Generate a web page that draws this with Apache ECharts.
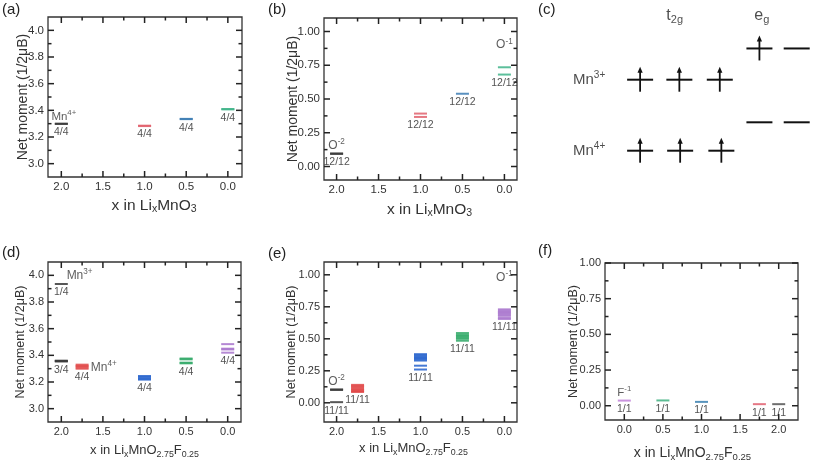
<!DOCTYPE html>
<html><head><meta charset="utf-8">
<script src="https://cdn.jsdelivr.net/npm/echarts@6/dist/echarts.min.js"></script>
<style>html,body{margin:0;padding:0;background:#fff}#c{width:813px;height:463px}</style>
</head><body><div id="c"></div>
<script>
// ================= DATA =================
// (a) LixMnO3 : Mn net moments
const aX = [2.0, 1.0, 0.5, 0.0];
const aVals = [[3.30, 3.298], [3.285, 3.282], [3.336, 3.334], [3.41, 3.407]];
const aCounts = ['4/4', '4/4', '4/4', '4/4'];
const aIons = [[1.97, 3.353, 'Mn', '4+']];
// (b) LixMnO3 : O net moments
const bX = [2.0, 1.0, 0.5, 0.0];
const bVals = [[0.097, 0.093], [0.392, 0.367], [0.539], [0.735, 0.681]];
const bCounts = ['12/12', '12/12', '12/12', '12/12'];
const bIons = [[2.0, 0.157, 'O', '-2'], [0.0, 0.90, 'O', '-1']];
// (d) LixMnO2.75F0.25 : Mn net moments
const dX = [2.0, 2.0, 1.75, 1.0, 0.5, 0.0];
const dVals = [[3.935], [3.36, 3.357, 3.354], [3.33, 3.32, 3.31, 3.30], [3.245, 3.235, 3.225, 3.218],
               [3.376, 3.37, 3.345, 3.34], [3.484, 3.45, 3.444, 3.42]];
const dCounts = ['1/4', '3/4', '4/4', '4/4', '4/4', '4/4'];
const dIons = [[1.78, 4.0, 'Mn', '3+'], [1.49, 3.31, 'Mn', '4+']];
// (e) LixMnO2.75F0.25 : O net moments
const eX = [2.0, 1.75, 1.0, 0.5, 0.0];
const eVals = [[0.105, 0.10, 0.005], [0.14, 0.13, 0.12, 0.11, 0.10, 0.09, 0.085],
               [0.38, 0.37, 0.36, 0.35, 0.34, 0.33, 0.29, 0.26],
               [0.545, 0.53, 0.52, 0.51, 0.50, 0.485],
               [0.73, 0.72, 0.71, 0.70, 0.69, 0.68, 0.665, 0.655]];
const eCounts = ['11/11', '11/11', '11/11', '11/11', '11/11'];
const eIons = [[2.0, 0.167, 'O', '-2'], [0.0, 0.98, 'O', '-1']];
// (f) LixMnO2.75F0.25 : F net moments
const fX = [0.0, 0.5, 1.0, 1.75, 2.0];
const fVals = [[0.036], [0.037], [0.027], [0.011], [0.011]];
const fCounts = ['1/1', '1/1', '1/1', '1/1', '1/1'];
const fIons = [[0.0, 0.093, 'F', '-1']];
// (c) level diagram: orbital slot index and schematic energy
const cLevelSlot = [0, 1, 2.03, 3.04, 3.99, 0, 1.02, 2.07, 3.04, 3.99];
const cLevelE    = [2.5, 2.5, 2.5, 3.6, 3.6, 0, 0, 0, 1.0, 1.0];
const cSpinSlot  = [0, 1, 2.03, 3.04, 0, 1.02, 2.07];
const cSpinE     = [2.5, 2.5, 2.5, 3.6, 0, 0, 0];
const cTexts = [[0.88, 4.75, '{n|t}{s|2g}'], [3.1, 4.75, '{n|e}{s|g}'],
                [-1.3, 2.5, '{m|Mn}{p|3+}'], [-1.3, 0, '{m|Mn}{p|4+}']];
// tick values
const xMajor = [0, 0.5, 1.0, 1.5, 2.0];
const xMinor = [0.25, 0.75, 1.25, 1.75];
const yMnMajor = [3.0, 3.2, 3.4, 3.6, 3.8, 4.0];
const yMnMinor = [3.1, 3.3, 3.5, 3.7, 3.9];
const yOMajor = [0, 0.25, 0.5, 0.75, 1.0];
const yOMinor = [0.125, 0.375, 0.625, 0.875];

// ================= STYLE / BUILD =================
const FONT = '"Liberation Sans", Arial, Helvetica, sans-serif';
const TXT = '#333';
const AX = {color: '#333333', width: 1.3};
const grids = [], xAxes = [], yAxes = [], series = [], tickSpecs = [];

function nameRich(fs) {
  return {
    n: {fontSize: fs, color: TXT, fontFamily: FONT, lineHeight: 18},
    s: {fontSize: fs * 0.68, color: TXT, fontFamily: FONT, lineHeight: 10, verticalAlign: 'bottom'}
  };
}

function addPanel(p) {
  const gi = grids.length;
  grids.push({left: p.box[0], top: p.box[1], width: p.box[2], height: p.box[3],
              show: true, borderColor: AX.color, borderWidth: AX.width, backgroundColor: 'transparent'});
  const xi = xAxes.length, yi = yAxes.length;
  xAxes.push({type: 'value', gridIndex: gi, min: p.xr[0], max: p.xr[1], inverse: !!p.xInv,
    splitLine: {show: false}, silent: true, position: 'bottom',
    axisLine: {show: false, onZero: false}, axisTick: {show: false},
    axisLabel: {show: true, customValues: p.xMajor, formatter: v => v.toFixed(1), margin: 4,
                fontSize: p.fs, color: TXT, fontFamily: FONT},
    name: p.xName, nameLocation: 'middle', nameGap: p.xGap, nameMoveOverlap: false,
    nameTextStyle: {rich: nameRich(p.nfs), padding: p.xPad}
  });
  yAxes.push({type: 'value', gridIndex: gi, min: p.yr[0], max: p.yr[1],
    splitLine: {show: false}, silent: true, position: 'left',
    axisLine: {show: false, onZero: false}, axisTick: {show: false},
    axisLabel: {show: true, customValues: p.yMajor, formatter: v => v.toFixed(p.yDig), margin: 4,
                fontSize: p.fs, color: TXT, fontFamily: FONT},
    name: 'Net moment (1/2\u03bcB)', nameLocation: 'middle', nameGap: p.yGap, nameMoveOverlap: false,
    nameTextStyle: {fontSize: p.yfs, color: TXT, fontFamily: FONT}
  });
  tickSpecs.push({gi, p});
  return {xi, yi};
}

function addGroups(ax, X, V, C, colors) {
  X.forEach((x, i) => {
    const vals = V[i];
    const minV = Math.min.apply(null, vals);
    let done = false;
    const data = vals.map(v => {
      const d = {value: [x, v]};
      if (!done && v === minV) {
        done = true;
        d.label = {show: true, position: 'bottom', distance: 2, formatter: C[i],
                   fontSize: 10.5, color: TXT, fontFamily: FONT};
      }
      return d;
    });
    series.push({type: 'scatter', xAxisIndex: ax.xi, yAxisIndex: ax.yi, symbol: 'rect', symbolSize: [13, 2],
                 itemStyle: {color: colors[i], opacity: 0.85}, data, silent: true, z: 3, clip: false});
  });
}

function addIons(ax, ions, fs) {
  series.push({type: 'scatter', xAxisIndex: ax.xi, yAxisIndex: ax.yi, symbolSize: 1,
    itemStyle: {color: 'rgba(0,0,0,0)'}, silent: true, z: 4, clip: false,
    data: ions.map(t => ({value: [t[0], t[1]], name: '{n|' + t[2] + '}{p|' + t[3] + '}'})),
    label: {show: true, position: 'inside', formatter: q => q.name,
      rich: {n: {fontSize: fs, color: TXT, fontFamily: FONT, lineHeight: 15},
             p: {fontSize: fs * 0.68, color: TXT, fontFamily: FONT, lineHeight: 8, verticalAlign: 'top'}}}
  });
}

const nameLiMnO3 = '{n|x in Li}{s|x}{n|MnO}{s|3}';
const nameLiMnOF = '{n|x in Li}{s|x}{n|MnO}{s|2.75}{n|F}{s|0.25}';

// (a)
const pa = addPanel({box: [48, 17, 194, 160], xr: [-0.17, 2.16], xInv: true, yr: [2.9, 4.1],
  xMajor, xMinor, yMajor: yMnMajor, yMinor: yMnMinor, yDig: 1, fs: 11.5, nfs: 15.5, yfs: 14,
  xName: nameLiMnO3, xGap: 20, xPad: [0, 0, 0, 18], yGap: 18});
addGroups(pa, aX, aVals, aCounts, ['#3a3a3a', '#e0606c', '#3c7cb4', '#3fb48a']);
addIons(pa, aIons, 11.5);
// (b)
const pb = addPanel({box: [324, 18, 193, 162], xr: [-0.15, 2.15], xInv: true, yr: [-0.1, 1.1],
  xMajor, xMinor, yMajor: yOMajor, yMinor: yOMinor, yDig: 2, fs: 11.5, nfs: 15.5, yfs: 14,
  xName: nameLiMnO3, xGap: 21, xPad: [0, 0, 0, 18], yGap: 24});
addGroups(pb, bX, bVals, bCounts, ['#3a3a3a', '#e0606c', '#3c7cb4', '#3fb48a']);
addIons(pb, bIons, 12);
// (d)
const pd = addPanel({box: [48, 262, 193, 160], xr: [-0.16, 2.16], xInv: true, yr: [2.9, 4.1],
  xMajor, xMinor, yMajor: yMnMajor, yMinor: yMnMinor, yDig: 1, fs: 11, nfs: 13, yfs: 12.5,
  xName: nameLiMnOF, xGap: 19, xPad: 0, yGap: 21});
addGroups(pd, dX, dVals, dCounts, ['#3a3a3a', '#3a3a3a', '#e04646', '#2461cc', '#2fa866', '#a874cc']);
addIons(pd, dIons, 12);
// (e)
const pe = addPanel({box: [324, 262, 193, 160], xr: [-0.15, 2.15], xInv: true, yr: [-0.15, 1.1],
  xMajor, xMinor, yMajor: yOMajor, yMinor: yOMinor, yDig: 2, fs: 11, nfs: 13, yfs: 12.5,
  xName: nameLiMnOF, xGap: 17, xPad: [0, 14, 0, 0], yGap: 26});
addGroups(pe, eX, eVals, eCounts, ['#3a3a3a', '#e04646', '#2461cc', '#2fa866', '#a874cc']);
addIons(pe, eIons, 12);
// (f)
const pf = addPanel({box: [605, 263, 193, 160], xr: [-0.25, 2.25], xInv: false, yr: [-0.1, 1.0],
  xMajor, xMinor, yMajor: yOMajor, yMinor: yOMinor, yDig: 2, fs: 11, nfs: 14, yfs: 12.5,
  xName: nameLiMnOF, xGap: 24, xPad: [0, 18, 0, 0], yGap: 25});
addGroups(pf, fX, fVals, fCounts, ['#c080d8', '#40b080', '#3a80b0', '#e06070', '#555555']);
addIons(pf, fIons, 11.5);

// (c) level diagram on hidden axes
const gc = grids.length;
grids.push({left: 542, top: 8.7, width: 270.8, height: 170.4});
const cxi = xAxes.length, cyi = yAxes.length;
xAxes.push({type: 'value', gridIndex: gc, min: -2.5, max: 4.4, show: false});
yAxes.push({type: 'value', gridIndex: gc, min: -1, max: 5, show: false});
series.push({type: 'custom', xAxisIndex: cxi, yAxisIndex: cyi, silent: true, clip: false,
  data: cLevelSlot.map((s, i) => [s, cLevelE[i]]),
  renderItem: (params, api) => {
    const p = api.coord([api.value(0), api.value(1)]);
    return {type: 'line', shape: {x1: p[0] - 13, y1: p[1], x2: p[0] + 13, y2: p[1]},
            style: {stroke: '#111', lineWidth: 2}};
  }});
series.push({type: 'custom', xAxisIndex: cxi, yAxisIndex: cyi, silent: true, clip: false,
  data: cSpinSlot.map((s, i) => [s, cSpinE[i]]),
  renderItem: (params, api) => {
    const p = api.coord([api.value(0), api.value(1)]);
    return {type: 'group', children: [
      {type: 'line', shape: {x1: p[0], y1: p[1] + 12, x2: p[0], y2: p[1] - 8}, style: {stroke: '#111', lineWidth: 1.8}},
      {type: 'polygon', shape: {points: [[p[0], p[1] - 13], [p[0] - 2.6, p[1] - 7], [p[0] + 2.6, p[1] - 7]]}, style: {fill: '#111'}}
    ]};
  }});
series.push({type: 'scatter', xAxisIndex: cxi, yAxisIndex: cyi, symbolSize: 1, silent: true, clip: false,
  itemStyle: {color: 'rgba(0,0,0,0)'},
  data: cTexts.map(t => ({value: [t[0], t[1]], name: t[2]})),
  label: {show: true, position: 'inside', formatter: q => q.name,
    rich: {n: {fontSize: 16, color: '#222', fontFamily: FONT, lineHeight: 20},
           s: {fontSize: 11, color: '#222', fontFamily: FONT, lineHeight: 11, verticalAlign: 'bottom'},
           m: {fontSize: 15, color: '#222', fontFamily: FONT, lineHeight: 18},
           p: {fontSize: 10, color: '#222', fontFamily: FONT, lineHeight: 9, verticalAlign: 'top'}}}
});

const plab = (t, l, tp) => ({type: 'text', left: l, top: tp,
  style: {text: t, fontSize: 15, fill: '#222', fontFamily: FONT}});

const chart = echarts.init(document.getElementById('c'), null, {renderer: 'canvas'});
chart.setOption({
  animation: false,
  backgroundColor: '#ffffff',
  grid: grids, xAxis: xAxes, yAxis: yAxes, series,
  graphic: [plab('(a)', 2, 2), plab('(b)', 268, 2), plab('(c)', 538, 2),
            plab('(d)', 2, 245), plab('(e)', 268, 246), plab('(f)', 538, 243)]
});

// Inward mirrored ticks on all four sides, positioned through each grid's own axes
const tickEls = [];
tickSpecs.forEach(({gi, p}) => {
  const f = (x, y) => chart.convertToPixel({gridIndex: gi}, [x, y]);
  const bl = f(p.xInv ? p.xr[1] : p.xr[0], p.yr[0]);
  const tr = f(p.xInv ? p.xr[0] : p.xr[1], p.yr[1]);
  const add = (x1, y1, x2, y2) => tickEls.push({type: 'line', silent: true, z: 100,
    shape: {x1, y1, x2, y2}, style: {stroke: '#222', lineWidth: 1.5}});
  [[p.xMajor, 6], [p.xMinor, 3.5]].forEach(([vals, L]) => vals.forEach(v => {
    const x = f(v, p.yr[0])[0];
    add(x, bl[1], x, bl[1] - L);
    add(x, tr[1], x, tr[1] + L);
  }));
  [[p.yMajor, 6], [p.yMinor, 3.5]].forEach(([vals, L]) => vals.forEach(v => {
    const y = f(p.xr[0], v)[1];
    add(bl[0], y, bl[0] + L, y);
    add(tr[0], y, tr[0] - L, y);
  }));
});
chart.setOption({graphic: [plab('(a)', 2, 2), plab('(b)', 268, 2), plab('(c)', 538, 2),
            plab('(d)', 2, 245), plab('(e)', 268, 246), plab('(f)', 538, 243)].concat(tickEls)});
</script></body></html>
